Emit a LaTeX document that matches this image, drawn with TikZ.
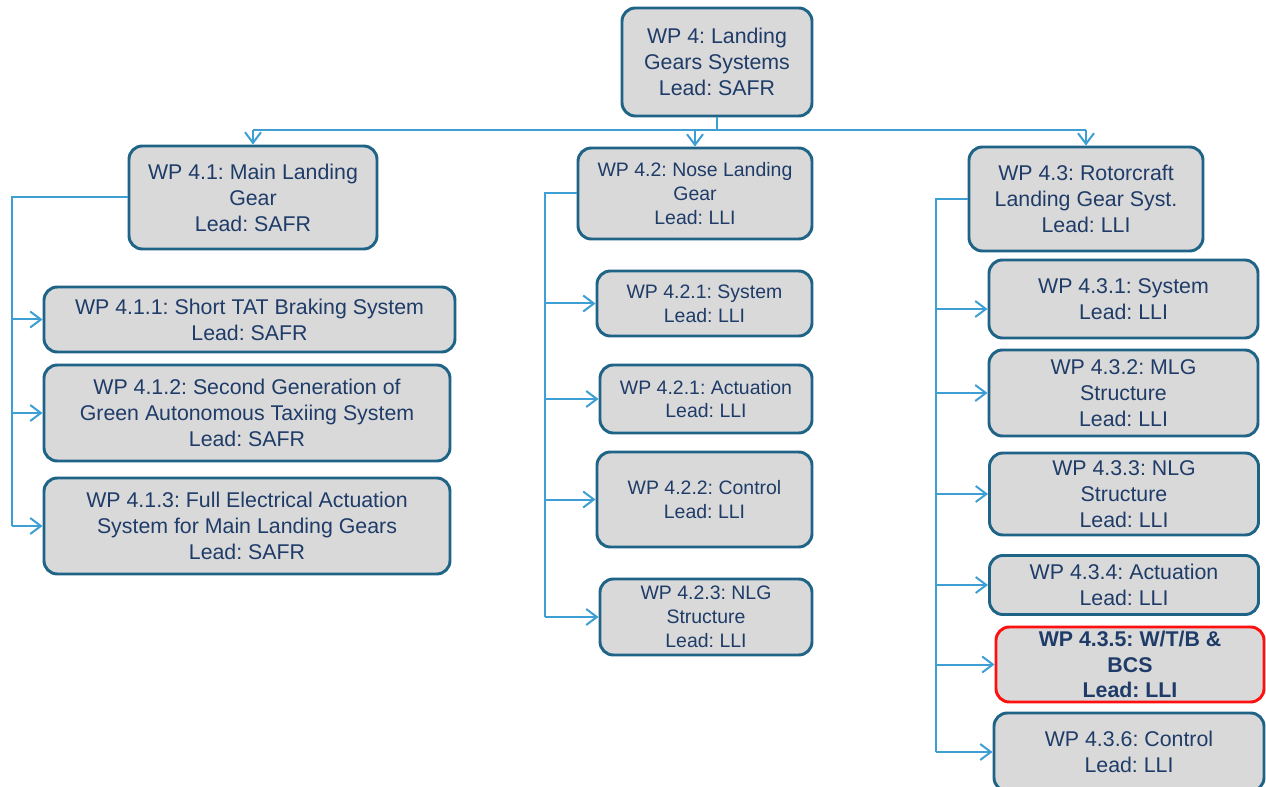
\documentclass[tikz,border=0pt]{standalone}
\usepackage{fontspec}
\setmainfont{Liberation Sans}
\usetikzlibrary{arrows.meta}
\definecolor{boxfill}{HTML}{D9D9D9}
\definecolor{boxline}{HTML}{1F6487}
\definecolor{boxtext}{HTML}{1F3C68}
\definecolor{wirecol}{HTML}{3E9FD4}
\definecolor{hilite}{HTML}{FF1010}
\frenchspacing

\begin{document}
\begin{tikzpicture}[x=0.75pt,y=-0.75pt,
  wp/.style={draw=boxline, fill=boxfill, line width=2.2pt, rounded corners=10pt,
    text=boxtext, align=center, inner sep=0pt, font=\fontsize{16}{19.5}\selectfont},
  wpm/.style={wp, font=\fontsize{14.6}{17.8}\selectfont},
  sz/.style 2 args={minimum width=#1*0.75pt, minimum height=#2*0.75pt},
  link/.style={draw=wirecol, line width=1.5pt},
  feed/.style={link, -{Straight Barb[length=8pt,width=12pt]}},
]
\useasboundingbox (0,0) rectangle (1266,787);
\clip (0,0) rectangle (1266,787);

% top level
\node[wp, sz={190}{108}] (wp4) at (717,62) {WP 4: Landing\\Gears Systems\\Lead: SAFR};

% second level
\node[wp, sz={248}{103}] (wp41) at (253,197.5) {WP 4.1: Main Landing\\Gear\\Lead: SAFR};
\node[wpm, sz={234}{91}] (wp42) at (695,193.5) {WP 4.2: Nose Landing\\Gear\\Lead: LLI};
\node[wp, sz={234}{104}] (wp43) at (1086,199) {WP 4.3: Rotorcraft\\Landing Gear Syst.\\Lead: LLI};

% main landing gear
\node[wp, sz={411}{65}] (wp411) at (249.5,319.5) {WP 4.1.1: Short TAT Braking System\\Lead: SAFR};
\node[wp, sz={406}{96}] (wp412) at (247,413) {WP 4.1.2: Second Generation of\\Green Autonomous Taxiing System\\Lead: SAFR};
\node[wp, sz={406}{96}] (wp413) at (247,526) {WP 4.1.3: Full Electrical Actuation\\System for Main Landing Gears\\Lead: SAFR};

% nose landing gear
\node[wpm, sz={215}{65}] (wp421) at (704.5,303.5) {WP 4.2.1: System\\Lead: LLI};
\node[wpm, sz={212}{68}] (wp421b) at (706,399) {WP 4.2.1: Actuation\\Lead: LLI};
\node[wpm, sz={215}{95}] (wp422) at (704.5,499.5) {WP 4.2.2: Control\\Lead: LLI};
\node[wpm, sz={212}{76}] (wp423) at (706,617) {WP 4.2.3: NLG\\Structure\\Lead: LLI};

% rotorcraft landing gear
\node[wp, sz={269}{78}] (wp431) at (1123.5,299) {WP 4.3.1: System\\Lead: LLI};
\node[wp, sz={269}{86}] (wp432) at (1123.5,393) {WP 4.3.2: MLG\\Structure\\Lead: LLI};
\node[wp, sz={269}{82}] (wp433) at (1124,494) {WP 4.3.3: NLG\\Structure\\Lead: LLI};
\node[wp, sz={269}{59}] (wp434) at (1124,585) {WP 4.3.4: Actuation\\Lead: LLI};
\node[wp, draw=hilite, sz={268}{75}, font=\fontsize{16}{19}\selectfont\bfseries] (wp435) at (1130,664.5) {WP 4.3.5: W/T/B \&\\BCS\\Lead: LLI};
\node[wp, sz={270}{78}] (wp436) at (1129,752) {WP 4.3.6: Control\\Lead: LLI};

% top bus
\coordinate (bus) at (717,130);
\draw[link] (wp4.south) -- (wp4.south |- bus);
\draw[link] (wp41.north |- bus) -- (wp43.north |- bus);
\foreach \c in {wp41,wp42,wp43}
  \draw[feed] (\c.north |- bus) -- (\c.north);

% left spine
\coordinate (spineA) at (12,0);
\draw[link] (wp41.west) -| (spineA |- wp413.west);
\foreach \c in {wp411,wp412,wp413}
  \draw[feed] (spineA |- \c.west) -- (\c.west);

% middle spine
\coordinate (spineB) at (545,0);
\draw[link] (wp42.west) -| (spineB |- wp423.west);
\foreach \c in {wp421,wp421b,wp422,wp423}
  \draw[feed] (spineB |- \c.west) -- (\c.west);

% right spine
\coordinate (spineC) at (936,0);
\coordinate (in431) at ([yshift=-7.5pt]wp431.west);
\draw[link] (wp43.west) -| (spineC |- wp436.west);
\draw[feed] (spineC |- in431) -- (in431);
\foreach \c in {wp432,wp433,wp434,wp435,wp436}
  \draw[feed] (spineC |- \c.west) -- (\c.west);
\end{tikzpicture}
\end{document}
